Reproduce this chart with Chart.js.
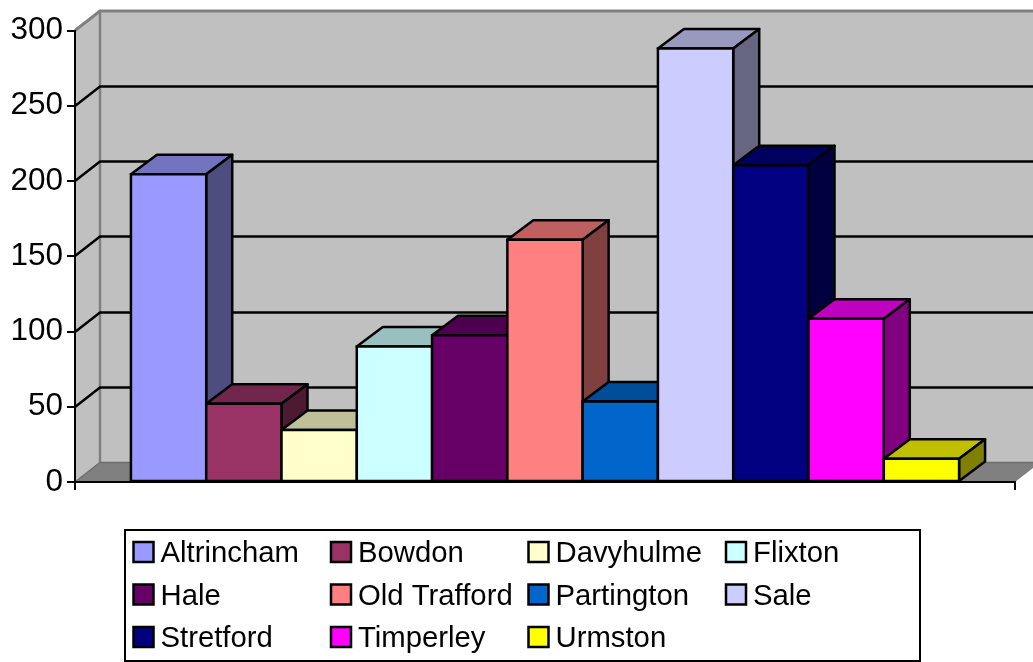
<!DOCTYPE html>
<html>
<head>
<meta charset="utf-8">
<title>Trafford areas</title>
<script src="https://cdn.jsdelivr.net/npm/chart.js@4"></script>
<style>
    html, body { margin: 0; padding: 0; background: #fff; overflow: hidden; }
    canvas { display: block; }
</style>
</head>
<body>
<canvas id="areas-chart" width="1033" height="662"></canvas>
<script>
const areaNames = ['Altrincham', 'Bowdon', 'Davyhulme', 'Flixton', 'Hale', 'Old Trafford', 'Partington', 'Sale', 'Stretford', 'Timperley', 'Urmston'];
const areaValues = [204.5, 52, 34.5, 90, 97.5, 161, 53.5, 288, 210.5, 108.5, 15.5];
const areaColors = ['#9999FF', '#993366', '#FFFFCC', '#CCFFFF', '#660066', '#FF8080', '#0066CC', '#CCCCFF', '#000080', '#FF00FF', '#FFFF00'];
const yTicks = [0, 50, 100, 150, 200, 250, 300];

const FONT = '"Liberation Sans", Arial, sans-serif';
const WALL_DX = 25, WALL_DY = 19.5;
const BAR_DX = 26, BAR_DY = 19.5;
const EDGE = 2.5;

// top of a bar is 75% of the front colour, the side 50%
function shade(hex, k) {
    const n = parseInt(hex.slice(1), 16);
    return `rgb(${Math.round((n >> 16 & 255) * k)}, ${Math.round((n >> 8 & 255) * k)}, ${Math.round((n & 255) * k)})`;
}

function poly(ctx, pts, fill, stroke, width) {
    ctx.beginPath();
    pts.forEach((p, i) => i ? ctx.lineTo(p[0], p[1]) : ctx.moveTo(p[0], p[1]));
    ctx.closePath();
    if (fill) {
        ctx.fillStyle = fill;
        ctx.fill();
    }
    if (stroke) {
        ctx.strokeStyle = stroke;
        ctx.lineWidth = width;
        ctx.stroke();
    }
}

function line(ctx, pts, color, width) {
    ctx.beginPath();
    pts.forEach((p, i) => i ? ctx.lineTo(p[0], p[1]) : ctx.moveTo(p[0], p[1]));
    ctx.strokeStyle = color;
    ctx.lineWidth = width;
    ctx.stroke();
}

// back wall, side wall, floor and the gridlines that run over them
const wallsPlugin = {
    id: 'walls',
    beforeDraw(chart) {
        const ctx = chart.ctx;
        const { left, right, top, bottom } = chart.chartArea;
        const dx = WALL_DX, dy = WALL_DY;
        ctx.save();
        poly(ctx, [[left, top], [left + dx, top - dy], [right + dx, top - dy], [right + dx, bottom - dy], [left + dx, bottom - dy], [left, bottom]], '#C0C0C0');
        poly(ctx, [[left, bottom], [left + dx, bottom - dy], [right + dx, bottom - dy], [right, bottom]], '#808080');
        line(ctx, [[left, top], [left + dx, top - dy], [right + dx, top - dy]], '#808080', 3);
        line(ctx, [[left + dx, top - dy], [left + dx, bottom - dy]], '#808080', 2.5);
        line(ctx, [[left, bottom], [left + dx, bottom - dy], [right + dx, bottom - dy]], '#6E6E6E', 1.5);
        yTicks.slice(1, -1).forEach(v => {
            const y = Math.round(chart.scales.y.getPixelForValue(v));
            line(ctx, [[left, y], [left + dx, y - dy], [right + dx, y - dy]], '#000', EDGE);
        });
        ctx.restore();
    }
};

// Chart.js paints datasets last to first, but here each bar has to cover the
// side face of the one on its left, so paint them first to last instead
const barDepthPlugin = {
    id: 'barDepth',
    beforeDatasetsDraw(chart) {
        const ctx = chart.ctx;
        chart.getSortedVisibleDatasetMetas().forEach(meta => {
            const bar = meta.data[0];
            const color = areaColors[meta.index];
            const l = bar.x - bar.width / 2, r = bar.x + bar.width / 2;
            const t = bar.y, b = bar.base;
            ctx.save();
            ctx.lineJoin = 'round';
            poly(ctx, [[l, t], [l + BAR_DX, t - BAR_DY], [r + BAR_DX, t - BAR_DY], [r, t]], shade(color, 0.75), '#000', EDGE);
            poly(ctx, [[r, t], [r + BAR_DX, t - BAR_DY], [r + BAR_DX, b - BAR_DY], [r, b]], shade(color, 0.5), '#000', EDGE);
            ctx.restore();
            meta.controller.draw();
            ctx.save();
            poly(ctx, [[l, t], [r, t], [r, b], [l, b]], null, '#000', EDGE);
            ctx.restore();
        });
        return false;
    }
};

const legendPlugin = {
    id: 'boxLegend',
    afterDraw(chart) {
        const ctx = chart.ctx;
        const colX = [133.5, 331, 528.5, 726];
        const rowY = [542, 584.5, 627];
        ctx.save();
        ctx.fillStyle = '#fff';
        ctx.fillRect(125, 530, 795, 131);
        ctx.strokeStyle = '#000';
        ctx.lineWidth = 2;
        ctx.strokeRect(125, 530, 795, 131);
        ctx.font = '29.3px ' + FONT;
        ctx.textAlign = 'left';
        ctx.textBaseline = 'alphabetic';
        ctx.lineWidth = EDGE;
        areaNames.forEach((name, i) => {
            const x = colX[i % 4];
            const y = rowY[Math.floor(i / 4)];
            ctx.fillStyle = areaColors[i];
            ctx.fillRect(x, y, 20, 20);
            ctx.strokeStyle = '#000';
            ctx.strokeRect(x, y, 20, 20);
            ctx.fillStyle = '#000';
            ctx.fillText(name, x + 27, y + 20);
        });
        ctx.restore();
    }
};

const areaDatasets = areaNames.map((name, i) => ({
    label: name,
    data: [areaValues[i]],
    backgroundColor: areaColors[i],
    borderWidth: 0
}));

new Chart(document.getElementById('areas-chart').getContext('2d'), {
    type: 'bar',
    data: {
        labels: [''],
        datasets: areaDatasets
    },
    options: {
        responsive: false,
        animation: false,
        categoryPercentage: 0.881,
        barPercentage: 1,
        layout: {
            padding: { top: 30.5, right: 18, bottom: 172, left: 0 }
        },
        scales: {
            x: {
                ticks: { display: false },
                grid: { offset: true, drawOnChartArea: false, tickLength: 8, color: '#000', lineWidth: 2 },
                border: { color: '#000', width: 2 }
            },
            y: {
                min: 0,
                max: 300,
                afterFit(scale) { scale.width = 75; },
                afterBuildTicks(scale) { scale.ticks = yTicks.map(value => ({ value })); },
                ticks: { color: '#000', padding: 4, font: { family: FONT, size: 31.5 } },
                grid: { drawOnChartArea: false, tickLength: 8, color: '#000', lineWidth: 2 },
                border: { color: '#000', width: 2 }
            }
        },
        plugins: {
            legend: { display: false },
            tooltip: { enabled: false }
        }
    },
    plugins: [wallsPlugin, barDepthPlugin, legendPlugin]
});
</script>
</body>
</html>
